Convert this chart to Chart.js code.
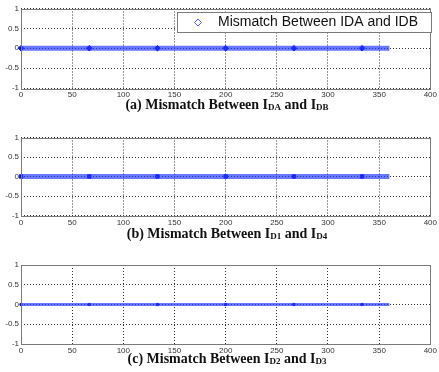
<!DOCTYPE html>
<html>
<head>
<meta charset="utf-8">
<script src="https://cdn.jsdelivr.net/npm/chart.js@4/dist/chart.umd.min.js"></script>
<style>
  body { margin: 0; background: #fff; width: 439px; height: 372px; overflow: hidden; position: relative; }
  canvas { position: absolute; left: 0; }
  .cap { position: absolute; left: 21px; width: 412px; text-align: center; font: bold 14px "Liberation Serif", "Times New Roman", serif; color: #111; line-height: 16px; }
  .cap span { font-size: 9px; position: relative; top: 1px; }
</style>
</head>
<body>
<canvas id="pa" width="439" height="98" style="top:0"></canvas>
<div class="cap" style="top:97px">(a) Mismatch Between I<span>DA</span> and I<span>DB</span></div>
<canvas id="pb" width="439" height="97" style="top:129px"></canvas>
<div class="cap" style="top:226px">(b) Mismatch Between I<span>D1</span> and I<span>D4</span></div>
<canvas id="pc" width="439" height="98" style="top:256px"></canvas>
<div class="cap" style="top:351px">(c) Mismatch Between I<span>D2</span> and I<span>D3</span></div>
<script>
// sample positions along the x axis (marked points) and band end points
var markerX = [0, 66.7, 133.3, 200, 266.7, 333.3];
var bandX = [0, 360];
// mismatch values for each comparison
var mismatchAB = [0, 0, 0, 0, 0, 0];
var mismatch14 = [0, 0, 0, 0, 0, 0];
var mismatch23 = [0, 0, 0, 0, 0, 0];
var bandAB = [0, 0];
var band14 = [0, 0];
var band23 = [0, 0];
// axis ticks
var xTicks = [0, 50, 100, 150, 200, 250, 300, 350, 400];
var yTicks = [-1, -0.5, 0, 0.5, 1];

function pts(xs, ys) {
  return xs.map(function (x, i) { return { x: x, y: ys[i] }; });
}

var framePlugin = {
  id: "frame",
  afterDraw: function (chart, args, o) {
    var c = chart.ctx, a = chart.chartArea;
    c.save();
    c.strokeStyle = "#7a7a7a";
    c.lineWidth = 1;
    c.strokeRect(Math.round(a.left) + 0.5, Math.round(a.top) + 0.5, Math.round(a.right - a.left), Math.round(a.bottom - a.top));
    // legend box
    var bx = o.box[0], by = o.box[1], bw = o.box[2], bh = o.box[3];
    c.fillStyle = "#fff";
    c.fillRect(bx, by, bw, bh);
    c.strokeStyle = "#7a7a7a";
    c.strokeRect(bx + 0.5, by + 0.5, bw, bh);
    var my = by + bh / 2 + 0.5;
    c.strokeStyle = "#5060ff";
    c.fillStyle = "rgba(0,0,0,0)";
    Chart.helpers.drawPoint(c, { pointStyle: o.marker, radius: o.markerR, borderWidth: 1 }, bx + 21, my);
    c.fillStyle = "#111";
    c.font = "14px 'Liberation Sans', Arial, sans-serif";
    c.textBaseline = "middle";
    c.fillText(chart.data.datasets[0].label, bx + 41, my);
    c.restore();
  }
};

function fmt(v) { return String(v); }

function makePanel(id, label, bandY, markY, opt) {
  var ctx = document.getElementById(id).getContext("2d");
  return new Chart(ctx, {
    type: "scatter",
    data: {
      datasets: [
        {
          label: label,
          data: pts(bandX, bandY),
          showLine: true,
          borderColor: "rgba(35,55,255,0.68)",
          borderWidth: opt.band,
          borderCapStyle: "butt",
          pointRadius: 0
        },
        {
          label: label + " samples",
          data: pts(markerX, markY),
          showLine: false,
          clip: false,
          pointStyle: opt.style,
          pointRadius: opt.r,
          backgroundColor: "#0814e0",
          borderColor: "#0814e0",
          borderWidth: 1
        }
      ]
    },
    options: {
      responsive: false,
      animation: false,
      layout: { padding: { top: opt.top, right: 6, left: 0, bottom: 0 } },
      plugins: {
        legend: { display: false },
        tooltip: { enabled: false },
        frame: { box: opt.box, marker: opt.marker, markerR: opt.markerR }
      },
      scales: {
        x: {
          type: "linear", min: 0, max: 400,
          afterBuildTicks: function (s) { s.ticks = xTicks.map(function (v) { return { value: v }; }); },
          afterFit: function (s) { s.height = opt.xh; },
          grid: { color: "#333", drawTicks: false, lineWidth: 1 },
          border: { display: false, dash: [1, 2] },
          ticks: { padding: 2, maxRotation: 0, color: "#333", callback: fmt, font: { family: "'Liberation Sans', Arial", size: 8 } }
        },
        y: {
          min: -1, max: 1,
          afterBuildTicks: function (s) { s.ticks = yTicks.map(function (v) { return { value: v }; }); },
          afterFit: function (s) { s.width = 21; },
          grid: { color: "#333", drawTicks: false, lineWidth: 1 },
          border: { display: false, dash: [1, 2] },
          ticks: { padding: 2, color: "#333", callback: fmt, font: { family: "'Liberation Sans', Arial", size: 8 } }
        }
      }
    },
    plugins: [framePlugin]
  });
}

makePanel("pa", "Mismatch Between IDA and IDB", bandAB, mismatchAB,
  { top: 8.5, xh: 10, band: 5, style: "rectRot", r: 2.8, marker: "rectRot", markerR: 3.5, box: [177, 12, 254, 20] });
makePanel("pb", "Mismatch Between ID1 and ID4", band14, mismatch14,
  { top: 8.5, xh: 10.5, band: 5, style: "rect", r: 2.4, marker: "circle", markerR: 2.5, box: [180, 140, 250, 21] });
makePanel("pc", "Mismatch Between ID2 and ID3", band23, mismatch23,
  { top: 9, xh: 10, band: 3, style: "rect", r: 1.5, marker: "crossRot", markerR: 2, box: [180, 267, 250, 21] });
</script>
</body>
</html>
